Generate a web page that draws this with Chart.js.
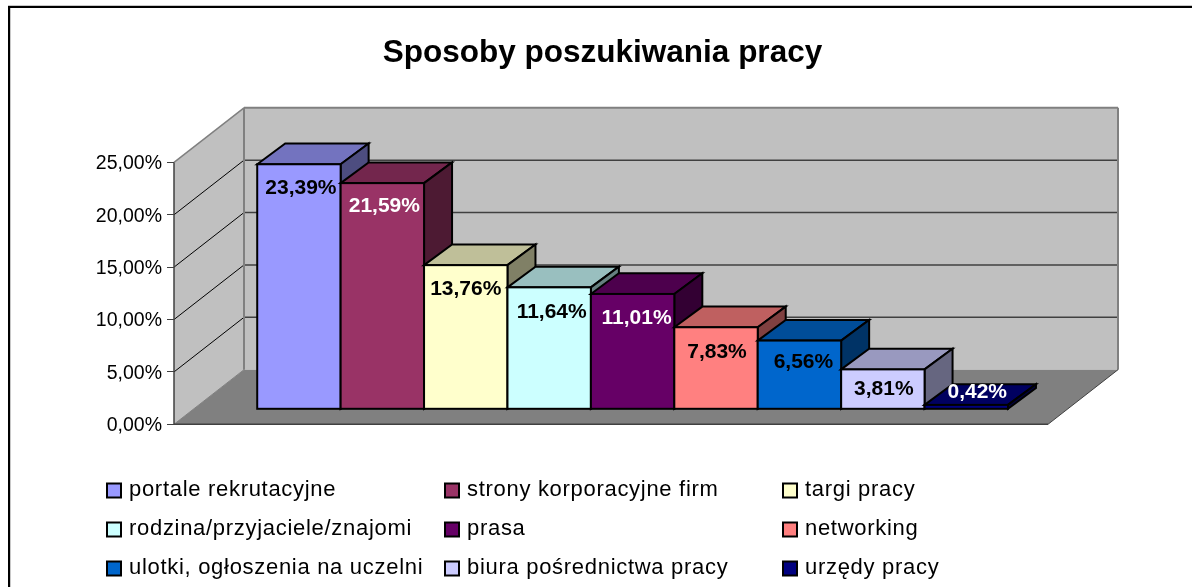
<!DOCTYPE html>
<html>
<head>
<meta charset="utf-8">
<style>
html,body{margin:0;padding:0;background:#fff;overflow:hidden}
#wrap{position:absolute;left:0;top:0;width:1192px;height:587px}
</style>
<script src="https://cdn.jsdelivr.net/npm/chart.js@4/dist/chart.umd.min.js"></script>
</head>
<body>
<div id="wrap"><canvas id="c" width="1192" height="587"></canvas></div>
<script>
const categories = [''];
const titleText = 'Sposoby poszukiwania pracy';
const seriesNames = ['portale rekrutacyjne','strony korporacyjne firm','targi pracy','rodzina/przyjaciele/znajomi','prasa','networking','ulotki, ogłoszenia na uczelni','biura pośrednictwa pracy','urzędy pracy'];
const seriesValues = [23.39,21.59,13.76,11.64,11.01,7.83,6.56,3.81,0.42];
const seriesColors = ['#9999FF','#993366','#FFFFCC','#CCFFFF','#660066','#FF8080','#0066CC','#CCCCFF','#000080'];
const labelColors = ['#000','#fff','#000','#000','#fff','#000','#000','#000','#fff'];
const labelNudgeX = [2,2,0,2.5,4,1,4,1,11];
const labelNudgeY = [24,23,24,25,24,25,22,20,-13];

const FONT = '"Liberation Sans", Arial, sans-serif';
const comma = v => v.toFixed(2).replace('.', ',') + '%';
// wall depth, and the plane the bars stand in, relative to the axis plane
const WALL = {dx: 70, dy: 54.6};
const BAR = {dx: 21.6, dy: 15, sideX: 28, sideY: 20.7};
const LEGEND = {xs: [107, 445, 783], textXs: [129, 467, 805], boxYs: [490.5, 529.5, 568.5], textYs: [489.5, 528.5, 567.5], box: 14};
const TITLE_SIZE = 31.5;

function shade(hex, f) {
  const n = parseInt(hex.slice(1), 16);
  const c = s => Math.round(((n >> s) & 255) * f);
  return `rgb(${c(16)},${c(8)},${c(0)})`;
}
function poly(ctx, pts, fill, stroke, lw) {
  ctx.beginPath();
  pts.forEach((p, i) => i ? ctx.lineTo(p[0], p[1]) : ctx.moveTo(p[0], p[1]));
  ctx.closePath();
  if (fill) { ctx.fillStyle = fill; ctx.fill(); }
  if (stroke) { ctx.strokeStyle = stroke; ctx.lineWidth = lw; ctx.lineJoin = 'miter'; ctx.stroke(); }
}
function line(ctx, x1, y1, x2, y2, color, lw) {
  ctx.beginPath(); ctx.moveTo(x1, y1); ctx.lineTo(x2, y2);
  ctx.strokeStyle = color; ctx.lineWidth = lw; ctx.stroke();
}

const frame = {
  id: 'frame',
  beforeDraw(chart) {
    const {ctx} = chart;
    ctx.save();
    line(ctx, 10.5, 8, 10.5, 600, '#c8c8c8', 1);
    line(ctx, 8, 5.5, 1192, 5.5, '#c8c8c8', 1);
    ctx.strokeStyle = '#000'; ctx.lineWidth = 2;
    ctx.beginPath(); ctx.moveTo(9, 600); ctx.lineTo(9, 7); ctx.lineTo(1200, 7); ctx.stroke();
    ctx.restore();
  }
};

const box3d = {
  id: 'box3d',
  beforeDatasetsDraw(chart) {
    const {ctx, chartArea: a, scales: {y}} = chart;
    const {dx, dy} = WALL;
    ctx.save();
    // walls and floor
    const top = a.top, bot = a.bottom, l = a.left, r = a.right;
    poly(ctx, [[l+dx, top-dy],[r+dx, top-dy],[r+dx, bot-dy],[l+dx, bot-dy]], '#C0C0C0');
    poly(ctx, [[l, bot],[l+dx, bot-dy],[l+dx, top-dy],[l, top]], '#C0C0C0');
    poly(ctx, [[l, bot],[r, bot],[r+dx, bot-dy],[l+dx, bot-dy]], '#808080');
    // gridlines through the axis ticks
    y.ticks.forEach(t => {
      const py = y.getPixelForValue(t.value);
      if (t.value > 0 && t.value < 25) {
        line(ctx, l, py, l+dx, py-dy, '#000', 1);
        line(ctx, l+dx, py-dy, r+dx, py-dy, '#404040', 1.5);
      }
    });
    line(ctx, l+dx, top-dy, r+dx, top-dy, '#808080', 2);
    line(ctx, r+dx, top-dy, r+dx, bot-dy, '#808080', 2);
    line(ctx, l+dx, top-dy, l+dx, bot-dy, '#808080', 2);
    line(ctx, l, top, l+dx, top-dy, '#808080', 1.5);
    line(ctx, l, bot, l+dx, bot-dy, '#808080', 1);
    line(ctx, l, bot, r, bot, '#404040', 1.5);
    line(ctx, r, bot, r+dx, bot-dy, '#404040', 1);
    line(ctx, l, top, l, bot, '#404040', 1.5);

    // bars, left to right, each with its top and side faces
    ctx.translate(BAR.dx, -BAR.dy);
    chart.data.datasets.forEach((ds, i) => {
      const meta = chart.getDatasetMeta(i);
      const el = meta.data[0];
      const hw = el.width / 2, x0 = el.x - hw, x1 = el.x + hw, ty = el.y, by = el.base;
      const sx = BAR.sideX, sy = BAR.sideY, col = ds.backgroundColor;
      poly(ctx, [[x0,ty],[x0+sx,ty-sy],[x1+sx,ty-sy],[x1,ty]], shade(col,0.75), '#000', 2);
      poly(ctx, [[x1,ty],[x1+sx,ty-sy],[x1+sx,by-sy],[x1,by]], shade(col,0.5), '#000', 2);
      meta.controller.draw();
      ctx.strokeStyle = '#000'; ctx.lineWidth = 2;
      ctx.strokeRect(x0, ty, x1 - x0, by - ty);
    });
    // value labels
    ctx.textAlign = 'center'; ctx.textBaseline = 'middle';
    ctx.font = 'bold 21px ' + FONT;
    chart.data.datasets.forEach((ds, i) => {
      const el = chart.getDatasetMeta(i).data[0];
      ctx.fillStyle = labelColors[i];
      ctx.fillText(comma(ds.data[0]), el.x + labelNudgeX[i], el.y + labelNudgeY[i]);
    });
    ctx.restore();

    // legend
    ctx.save();
    ctx.font = '22px ' + FONT;
    ctx.letterSpacing = '0.7px';
    ctx.textAlign = 'left'; ctx.textBaseline = 'middle';
    chart.data.datasets.forEach((ds, i) => {
      const row = Math.floor(i / 3), x = LEGEND.xs[i % 3], b = LEGEND.box, by = LEGEND.boxYs[row];
      ctx.fillStyle = ds.backgroundColor;
      ctx.fillRect(x, by - b/2, b, b);
      ctx.strokeStyle = '#000'; ctx.lineWidth = 2;
      ctx.strokeRect(x, by - b/2, b, b);
      ctx.fillStyle = '#000';
      ctx.fillText(ds.label, LEGEND.textXs[i % 3], LEGEND.textYs[row]);
    });
    ctx.restore();
    return false;
  }
};

new Chart(document.getElementById('c'), {
  type: 'bar',
  data: {
    labels: categories,
    datasets: seriesNames.map((n, i) => ({
      label: n,
      data: [seriesValues[i]],
      backgroundColor: seriesColors[i],
      borderWidth: 0,
      barPercentage: 1,
      categoryPercentage: 0.859
    }))
  },
  options: {
    responsive: false,
    animation: false,
    layout: {padding: {left: 13, right: 0, top: 34, bottom: 162.7}},
    plugins: {
      legend: {display: false},
      tooltip: {enabled: false},
      title: {display: true, text: titleText, color: '#000',
        font: {family: FONT, size: TITLE_SIZE, weight: 'bold'},
        padding: {top: 0, bottom: 162.4 - 34 - TITLE_SIZE * 1.2}}
    },
    scales: {
      x: {display: false},
      y: {
        min: 0, max: 25,
        afterFit(s) { s.width = 161; },
        ticks: {stepSize: 5, color: '#000', font: {family: FONT, size: 19.5},
          padding: 5, labelOffset: 1.5, callback: v => comma(v)},
        grid: {drawOnChartArea: false, drawTicks: true, tickLength: 7, color: '#404040'},
        border: {display: false}
      },
      // empty axis that reserves the space right of the plot
      spacer: {
        position: 'right', min: 0, max: 25,
        afterFit(s) { s.width = 144; },
        ticks: {display: false}, grid: {display: false}, border: {display: false}
      }
    }
  },
  plugins: [frame, box3d]
});
</script>
</body>
</html>
